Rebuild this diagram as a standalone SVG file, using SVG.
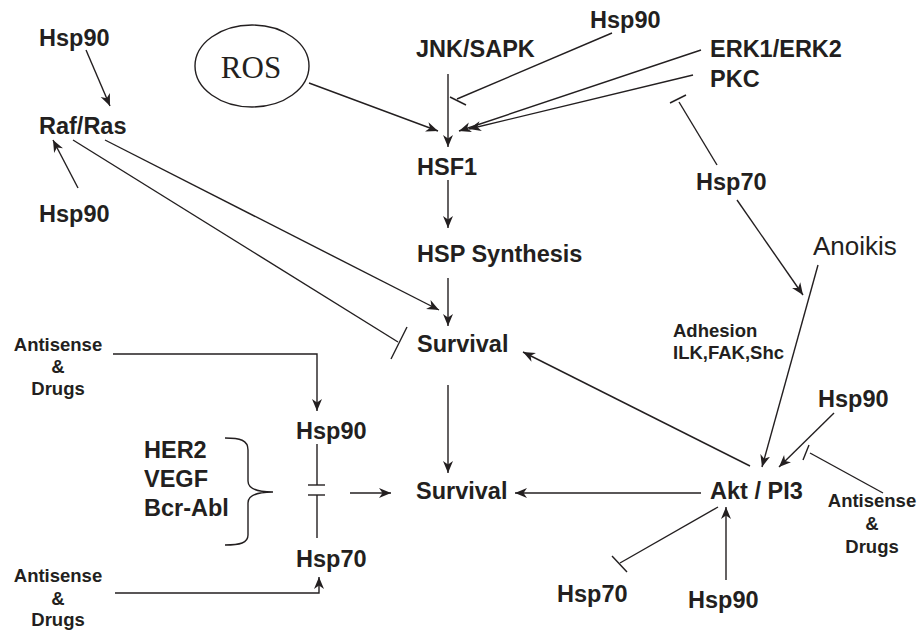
<svg xmlns="http://www.w3.org/2000/svg" width="918" height="630" viewBox="0 0 918 630">
<style>
text{font-family:"Liberation Sans",Arial,sans-serif;fill:#231f20}
.b{font-weight:bold;font-size:23.5px}
.s{font-weight:bold;font-size:18.5px}
.c{text-anchor:middle}
.ln{stroke:#231f20;stroke-width:1.4;fill:none}
.a{marker-end:url(#ah)}
</style>
<defs>
<marker id="ah" markerUnits="userSpaceOnUse" markerWidth="13" markerHeight="11" viewBox="0 0 13 11" refX="12" refY="5.5" orient="auto">
<path d="M0,0.5 L12,5.5 L0,10.5 L3.5,5.5 Z" fill="#231f20"/>
</marker>
</defs>
<rect width="918" height="630" fill="#fff"/>

<g id="hsp90-tl"><text class="b" x="39" y="46">Hsp90</text></g>
<g id="rafras"><text class="b" x="39" y="134">Raf/Ras</text></g>
<g id="hsp90-ml"><text class="b" x="39" y="222">Hsp90</text></g>
<g id="ros"><ellipse cx="252" cy="66" rx="57" ry="41" class="ln"/><text x="251" y="78" class="c" style="font-family:'Liberation Serif','Times New Roman',serif;font-size:31px">ROS</text></g>
<g id="jnk"><text class="b" x="416" y="57">JNK/SAPK</text></g>
<g id="hsp90-tr"><text class="b" x="590" y="28">Hsp90</text></g>
<g id="erk"><text class="b" x="710" y="57">ERK1/ERK2</text></g>
<g id="pkc"><text class="b" x="710" y="87">PKC</text></g>
<g id="hsf1"><text class="b" x="417" y="175">HSF1</text></g>
<g id="hsp70-r"><text class="b" x="696" y="190">Hsp70</text></g>
<g id="anoikis"><text x="813" y="255" style="font-size:26px">Anoikis</text></g>
<g id="hspsynth"><text class="b" x="417" y="262">HSP Synthesis</text></g>
<g id="survival1"><text class="b" x="417" y="352">Survival</text></g>
<g id="adhesion"><text class="s" x="673" y="337">Adhesion</text><text class="s" x="673" y="359">ILK,FAK,Shc</text></g>
<g id="antisense-tl"><text class="s c" x="58" y="351">Antisense</text><text class="s c" x="58" y="373">&amp;</text><text class="s c" x="58" y="395">Drugs</text></g>
<g id="hsp90-right"><text class="b" x="818" y="407">Hsp90</text></g>
<g id="hsp90-mid"><text class="b" x="296" y="439">Hsp90</text></g>
<g id="oncoproteins"><text class="b" x="144" y="458">HER2</text><text class="b" x="144" y="487">VEGF</text><text class="b" x="144" y="516">Bcr-Abl</text>
<path class="ln" d="M225,438 C240,438 248,440 248,450 L248,481 C248,488 256,492 273,492 C256,492 248,496 248,503 L248,535 C248,543 240,545 225,545"/></g>
<g id="survival2"><text class="b" x="416" y="499">Survival</text></g>
<g id="akt"><text class="b" x="710" y="499">Akt / PI3</text></g>
<g id="antisense-r"><text class="s c" x="872" y="507">Antisense</text><text class="s c" x="872" y="530">&amp;</text><text class="s c" x="872" y="553">Drugs</text></g>
<g id="hsp70-mid"><text class="b" x="296" y="567">Hsp70</text></g>
<g id="antisense-bl"><text class="s c" x="58" y="582">Antisense</text><text class="s c" x="58" y="605">&amp;</text><text class="s c" x="58" y="626">Drugs</text></g>
<g id="hsp70-b"><text class="b" x="557" y="602">Hsp70</text></g>
<g id="hsp90-b"><text class="b" x="688" y="608">Hsp90</text></g>

<g id="connectors">
<line class="ln a" x1="86" y1="50" x2="110" y2="106"/>
<line class="ln a" x1="78" y1="188" x2="53" y2="140"/>
<line class="ln a" x1="105" y1="140" x2="439" y2="310"/>
<line class="ln" x1="73" y1="140" x2="398" y2="342"/>
<line class="ln" x1="407" y1="327" x2="391" y2="359"/>
<line class="ln a" x1="309" y1="83" x2="438" y2="131"/>
<line class="ln a" x1="448" y1="74" x2="448" y2="147"/>
<line class="ln" x1="612" y1="33" x2="457" y2="99"/>
<line class="ln" x1="450" y1="97" x2="466" y2="105"/>
<line class="ln a" x1="701" y1="50" x2="459" y2="131"/>
<line class="ln a" x1="693" y1="75" x2="469" y2="129"/>
<line class="ln" x1="717" y1="165" x2="679" y2="102"/>
<line class="ln" x1="670" y1="103" x2="686" y2="95"/>
<line class="ln a" x1="737" y1="200" x2="803" y2="295"/>
<line class="ln a" x1="448" y1="180" x2="448" y2="228"/>
<line class="ln a" x1="448" y1="278" x2="448" y2="326"/>
<line class="ln a" x1="448" y1="385" x2="448" y2="473"/>
<line class="ln a" x1="818" y1="265" x2="762" y2="467"/>
<line class="ln a" x1="834" y1="413" x2="779" y2="467"/>
<line class="ln" x1="883" y1="493" x2="810" y2="453"/>
<line class="ln" x1="803" y1="460" x2="809" y2="445"/>
<line class="ln a" x1="750" y1="466" x2="523" y2="352"/>
<line class="ln a" x1="701" y1="493" x2="515" y2="493"/>
<line class="ln" x1="718" y1="507" x2="620" y2="563"/>
<line class="ln" x1="612" y1="556" x2="627" y2="572"/>
<line class="ln a" x1="726" y1="580" x2="726" y2="507"/>
<polyline class="ln a" points="113,354 317,354 317,411"/>
<polyline class="ln a" points="115,593 319,593 319,577"/>
<line class="ln" x1="317" y1="444" x2="317" y2="485"/>
<line class="ln" x1="308" y1="485" x2="325" y2="485"/>
<line class="ln" x1="308" y1="495" x2="325" y2="495"/>
<line class="ln" x1="317" y1="495" x2="317" y2="538"/>
<line class="ln a" x1="350" y1="493" x2="391" y2="493"/>
</g>
</svg>
